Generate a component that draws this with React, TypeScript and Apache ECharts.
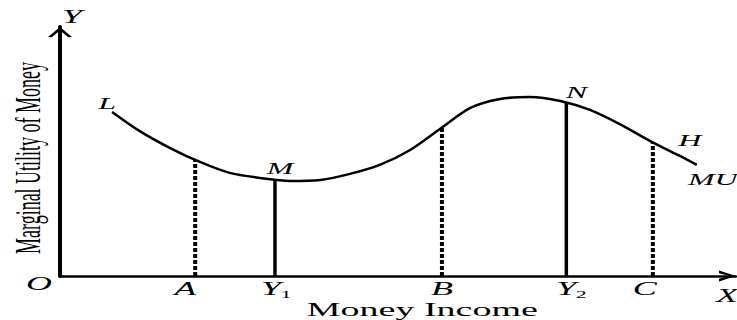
import React, { useEffect, useRef } from 'react';
import * as echarts from 'echarts';

// Marginal utility of money curve (money income on x, MU on y), arbitrary 0-100 units
const curveX = [7.7, 11.8, 16.3, 20.7, 25.1, 29.6, 34.0, 38.5, 42.9, 47.3, 51.8, 56.2, 60.7, 65.1, 69.5, 74.0, 78.4, 82.8, 87.3, 91.7, 94.2];
const curveY = [65.9, 58.2, 51.4, 45.8, 41.4, 39.4, 38.2, 38.6, 41.0, 44.6, 50.6, 59.0, 67.5, 71.1, 71.9, 70.3, 66.7, 61.0, 54.2, 48.2, 44.6];

// Drop lines from the curve to the income axis
const dropNames = ['A', 'Y1', 'B', 'Y2', 'C'];
const dropX = [20.0, 31.8, 56.5, 74.9, 87.7];
const dropY = [46.6, 38.9, 59.4, 69.7, 53.6];
const dropSolid = [false, true, false, true, false];

// Point labels: L at the curve start, M and N at the solid drop lines, H and MU at the curve end
const pointNames = ['L', 'M', 'N', 'H', 'MU'];

const xAxisTitle = 'Money Income';
const yAxisTitle = 'Marginal Utility of Money';

const SERIF = '"Liberation Serif", "Times New Roman", serif';
const IT18 = `italic 18px ${SERIF}`;
const IT16 = `italic 16px ${SERIF}`;

type Part = { text: string; dx: number; dy: number; font: string };
type TextItem = { x: number; y: number; dx: number; dy: number; sx: number; sy: number; rot: number; parts: Part[] };

const pointOffsets: [number, number][] = [[-5, -9], [5, -11], [10, -10], [-7, -25], [16, 14]];
const dropLabelOffsets: number[] = [-10, -4, 0, 0, -8];

function buildTextItems(): TextItem[] {
  const items: TextItem[] = [];
  const last = curveX.length - 1;
  const anchors: [number, number][] = [
    [curveX[0], curveY[0]],
    [dropX[1], dropY[1]],
    [dropX[3], dropY[3]],
    [curveX[last], curveY[last]],
    [curveX[last], curveY[last]],
  ];
  pointNames.forEach((name, i) => {
    items.push({ x: anchors[i][0], y: anchors[i][1], dx: pointOffsets[i][0], dy: pointOffsets[i][1], sx: 2, sy: 1, rot: 0, parts: [{ text: name, dx: 0, dy: 0, font: IT16 }] });
  });
  dropNames.forEach((name, i) => {
    const parts: Part[] = name.length > 1
      ? [{ text: name[0], dx: 0, dy: 0, font: IT18 }, { text: name.slice(1), dx: 7.5, dy: 6, font: `11px ${SERIF}` }]
      : [{ text: name, dx: 0, dy: 0, font: IT18 }];
    items.push({ x: dropX[i], y: 0, dx: dropLabelOffsets[i], dy: 13, sx: 2, sy: 1, rot: 0, parts });
  });
  // origin, axis letters, axis titles
  items.push({ x: 0, y: 0, dx: -21, dy: 8, sx: 2, sy: 1, rot: 0, parts: [{ text: 'O', dx: 0, dy: 0, font: IT18 }] });
  items.push({ x: 0, y: 100, dx: 12, dy: -10, sx: 2, sy: 1, rot: 0, parts: [{ text: 'Y', dx: 0, dy: 0, font: IT18 }] });
  items.push({ x: 100, y: 0, dx: -9, dy: 20, sx: 2, sy: 1, rot: 0, parts: [{ text: 'X', dx: 0, dy: 0, font: IT18 }] });
  items.push({ x: 53.6, y: 0, dx: 0, dy: 33, sx: 2, sy: 1, rot: 0, parts: [{ text: xAxisTitle, dx: 0, dy: 0, font: `19px ${SERIF}` }] });
  items.push({ x: 0, y: 47.4, dx: -32, dy: 0, sx: 1, sy: 2, rot: Math.PI / 2, parts: [{ text: yAxisTitle, dx: 0, dy: 0, font: `18px ${SERIF}` }] });
  return items;
}

export default function App() {
  const ref = useRef<HTMLDivElement>(null);

  useEffect(() => {
    if (!ref.current) return;
    const chart = echarts.init(ref.current, undefined, { renderer: 'svg' });
    const textItems = buildTextItems();

    chart.setOption({
      animation: false,
      backgroundColor: '#ffffff',
      grid: { left: 60, right: 1, top: 27, bottom: 44 },
      xAxis: {
        type: 'value', min: 0, max: 100,
        axisLine: {
          show: true, onZero: false,
          lineStyle: { color: '#000', width: 2.5 },
          symbol: ['none', 'path://M0,17 L5.5,0 L11,17 L8.3,17 L5.5,6.5 L2.7,17 Z'],
          symbolSize: [11, 17],
          symbolOffset: [0, -8.5],
        },
        axisTick: { show: false }, axisLabel: { show: false }, splitLine: { show: false },
      },
      yAxis: {
        type: 'value', min: 0, max: 100,
        axisLine: {
          show: true, onZero: false,
          lineStyle: { color: '#000', width: 4 },
          symbol: ['none', 'path://M0,10 L12,0 L24,10 L20,10 L12,3.4 L4,10 Z'],
          symbolSize: [24, 10],
          symbolOffset: [0, -5],
        },
        axisTick: { show: false }, axisLabel: { show: false }, splitLine: { show: false },
      },
      series: [
        {
          type: 'line',
          data: curveX.map((x, i) => [x, curveY[i]]),
          smooth: 0.3,
          showSymbol: false,
          silent: true,
          lineStyle: { color: '#000', width: 2.5 },
        },
        {
          type: 'custom',
          silent: true,
          data: dropX.map((x, i) => [x, dropY[i]]),
          renderItem: (params: any, api: any) => {
            const x = api.value(0);
            const y = api.value(1);
            const p0 = api.coord([x, 0]);
            const p1 = api.coord([x, y]);
            const solid = dropSolid[params.dataIndex];
            return {
              type: 'line',
              shape: { x1: p0[0], y1: p0[1], x2: p1[0], y2: p1[1] },
              style: { stroke: '#000', lineWidth: solid ? 3.5 : 4, lineDash: solid ? null : [4, 2], fill: null },
            };
          },
        },
        {
          type: 'custom',
          silent: true,
          clip: false,
          data: textItems.map((t) => [t.x, t.y]),
          renderItem: (params: any, api: any) => {
            const t = textItems[params.dataIndex];
            const p = api.coord([api.value(0), api.value(1)]);
            return {
              type: 'group',
              x: p[0] + t.dx,
              y: p[1] + t.dy,
              scaleX: t.sx,
              scaleY: t.sy,
              rotation: t.rot,
              children: t.parts.map((part) => ({
                type: 'text',
                x: part.dx,
                y: part.dy,
                style: { text: part.text, font: part.font, fill: '#000', align: 'center', verticalAlign: 'middle' },
              })),
            };
          },
        },
      ],
    });

    return () => chart.dispose();
  }, []);

  return <div ref={ref} style={{ position: 'fixed', left: 0, top: 0, width: 737, height: 320, background: '#fff' }} />;
}
